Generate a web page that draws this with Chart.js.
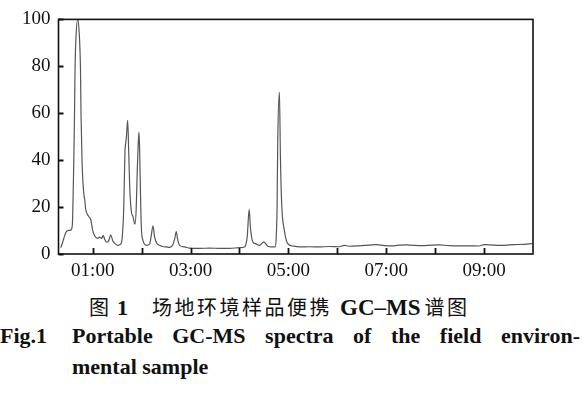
<!DOCTYPE html>
<html>
<head>
<meta charset="utf-8">
<script src="https://cdn.jsdelivr.net/npm/chart.js@4.4.1/dist/chart.umd.min.js"></script>
<style>
  body { margin: 0; background: #fff; width: 583px; height: 399px; position: relative; overflow: hidden; }
  #wrap { position: absolute; left: 0; top: 0; width: 583px; height: 285px; }
  .cap { position: absolute; white-space: nowrap; color: #111; }
  .zh { font-family: "Noto Sans CJK SC", sans-serif; font-size: 20px; letter-spacing: 2.5px; }
  .en { font-family: "Liberation Serif", "Times New Roman", serif; font-weight: bold; font-size: 22px; letter-spacing: 0; }
</style>
</head>
<body>
<div id="wrap"><canvas id="gcms"></canvas></div>

<div class="cap" style="left:89px; top:292px;"><span class="zh">图</span><span class="en"> 1</span></div>
<div class="cap" style="left:152px; top:292px;"><span class="zh">场地环境样品便携</span><span class="en" style="font-size:23px; margin-left:8px">GC–MS</span><span class="zh" style="margin-left:4px">谱图</span></div>
<div class="cap en" style="left:0px; top:323px;">Fig.1</div>
<div class="cap en" style="left:72px; top:323px; width:508px; text-align:justify; text-align-last:justify; white-space:normal;">Portable GC-MS spectra of the field environ-</div>
<div class="cap en" style="left:72px; top:354px;">mental sample</div>

<script>
// ===== Data (retention time in minutes, relative abundance %) =====
const retentionTimes = [
  0.347, 0.388, 0.449, 0.490, 0.551, 0.582, 0.592, 0.612, 0.627, 0.639, 0.659, 0.694, 0.724, 0.749, 0.761, 0.782,
  0.816, 0.837, 0.857, 0.918, 0.959, 1.000, 1.041, 1.102, 1.143, 1.184, 1.214, 1.245, 1.286, 1.327, 1.367, 1.408,
  1.449, 1.510, 1.571, 1.602, 1.633, 1.659, 1.673, 1.688, 1.714, 1.735, 1.755, 1.790, 1.822, 1.847, 1.863, 1.888,
  1.908, 1.929, 1.945, 1.959, 1.973, 1.994, 2.027, 2.096, 2.163, 2.194, 2.231, 2.265, 2.306, 2.367, 2.429, 2.510,
  2.571, 2.633, 2.673, 2.708, 2.735, 2.776, 2.878, 2.980, 3.184, 3.388, 3.592, 3.796, 4.000, 4.102, 4.157, 4.198,
  4.224, 4.271, 4.327, 4.408, 4.496, 4.578, 4.653, 4.729, 4.751, 4.769, 4.782, 4.816, 4.837, 4.863, 4.918, 4.986,
  5.088, 5.224, 5.43, 5.63, 5.84, 6.04, 6.14, 6.24, 6.45, 6.65, 6.80, 6.96, 7.16, 7.27, 7.41, 7.57,
  7.78, 8.08, 8.29, 8.49, 8.69, 8.90, 9.00, 9.20, 9.41, 9.61, 9.82, 9.98
];
const abundance = [
  2.7, 5.2, 9.2, 10.0, 10.2, 12.2, 18, 38.5, 59, 79.5, 93, 100, 94, 79, 59, 39,
  26, 23, 19, 16, 14.7, 10, 7.7, 6.7, 7.2, 6.7, 8, 6.2, 5, 5.7, 8.2, 5.7,
  4.5, 3.7, 4.2, 7, 19, 44, 47, 50, 57, 44, 29, 18, 16, 13.5, 12.7, 19,
  34, 47, 52, 44, 29, 11, 5.8, 3.7, 4.2, 7.5, 12, 7.2, 4.7, 3.7, 3.2, 3.0,
  2.8, 3.7, 6.2, 9.5, 6.2, 3.7, 3.0, 2.5, 2.4, 2.5, 2.4, 2.4, 2.7, 3.0, 7.2, 19,
  11.2, 5.2, 4.4, 3.7, 5.2, 3.3, 3.0, 3.0, 7.2, 21, 48, 69, 41, 21, 10, 4.4,
  3.4, 3.0, 3.1, 3.0, 3.2, 3.1, 3.7, 3.3, 3.5, 3.8, 4.0, 3.6, 3.5, 3.8, 3.9, 3.7,
  3.6, 3.9, 3.6, 3.5, 3.5, 3.4, 4.0, 3.8, 3.7, 4.0, 4.1, 4.4
];
const xTickValues = [1, 2, 3, 4, 5, 6, 7, 8, 9];
const xTickLabelValues = [1, 3, 5, 7, 9];
const yTickValues = [0, 20, 40, 60, 80, 100];

// ===== Frame + inward tick marks =====
const frameTicks = {
  id: "frameTicks",
  afterDraw(chart) {
    const { ctx, chartArea: a, scales } = chart;
    ctx.save();
    ctx.strokeStyle = "#111";
    ctx.lineWidth = 1.6;
    ctx.strokeRect(a.left, a.top, a.right - a.left, a.bottom - a.top);
    ctx.lineWidth = 1.8;
    ctx.beginPath();
    xTickValues.forEach(v => {
      const x = Math.round(scales.x.getPixelForValue(v)) + 0.5;
      ctx.moveTo(x, a.bottom);
      ctx.lineTo(x, a.bottom - 6);
    });
    yTickValues.forEach(v => {
      const y = Math.round(scales.y.getPixelForValue(v)) + 0.5;
      ctx.moveTo(a.left, y);
      ctx.lineTo(a.left + 5, y);
    });
    ctx.stroke();
    ctx.restore();
  }
};

const points = retentionTimes.map((t, i) => ({ x: t, y: abundance[i] }));
const tickFont = { family: "'Liberation Serif', 'Times New Roman', serif", size: 19 };

new Chart(document.getElementById("gcms"), {
  type: "line",
  data: {
    datasets: [{
      data: points,
      borderColor: "#555",
      borderWidth: 1.2,
      pointRadius: 0,
      cubicInterpolationMode: "monotone",
      fill: false
    }]
  },
  options: {
    responsive: true,
    maintainAspectRatio: false,
    animation: false,
    layout: { padding: { top: 12, right: 50, left: 0, bottom: 0 } },
    plugins: { legend: { display: false }, tooltip: { enabled: false } },
    scales: {
      x: {
        type: "linear",
        min: 0.3,
        max: 10.0,
        afterBuildTicks: s => { s.ticks = xTickValues.map(v => ({ value: v })); },
        afterFit: s => { s.height = 31; },
        grid: { display: false, drawTicks: false },
        border: { display: false },
        ticks: {
          padding: 6,
          color: "#111",
          font: tickFont,
          maxRotation: 0,
          autoSkip: false,
          callback: v => xTickLabelValues.includes(v) ? "0" + v + ":00" : ""
        }
      },
      y: {
        min: 0,
        max: 100,
        afterBuildTicks: s => { s.ticks = yTickValues.map(v => ({ value: v })); },
        afterFit: s => { s.width = 58.5; },
        grid: { display: false, drawTicks: false },
        border: { display: false },
        ticks: { padding: 8, color: "#111", font: tickFont }
      }
    }
  },
  plugins: [frameTicks]
});
</script>
</body>
</html>
